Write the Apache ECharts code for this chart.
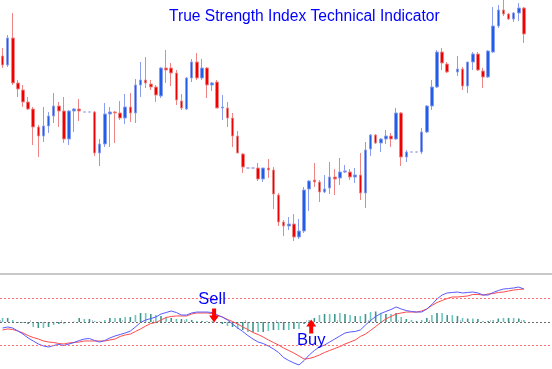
<!DOCTYPE html>
<html>
<head>
<meta charset="utf-8">
<script src="https://cdn.jsdelivr.net/npm/echarts@6/dist/echarts.min.js"></script>
<style>
html,body{margin:0;padding:0;background:#fff;}
#chart{width:552px;height:369px;}
</style>
</head>
<body>
<div id="chart"></div>
<script>
// ---- data ----
const slotCount = 108;
const categories = [];
for (let i = 0; i < slotCount; i++) categories.push(String(i));

// [open, close, low, high]
const candles = [
 [244,235,232,252],[235,262,233,265],[262,217,215,287],[217,211,203,220],[210,198,193,215],
 [198,191,190,203],[191,173,155,193],[173,164,143,175],[164,174,158,193],[174,184,167,188],
 [184,194,177,207],[194,189,173,198],[189,161,157,203],[161,189,155,190],[189,191,168,192],
 [191,189,179,201],[188,188,188,188],[188,188,188,188],[188,147,144,189],[147,156,134,161],
 [156,186,153,197],[186,188,153,193],[188,187,157,189],[187,182,180,199],[182,193,176,206],
 [193,187,178,207],[187,215,177,221],[215,220,203,238],[220,217,212,243],[216,213,210,220],
 [213,205,198,215],[204,232,202,233],[232,230,217,250],[232,227,214,237],[227,200,195,230],
 [199,192,190,206],[191,222,190,223],[222,238,218,241],[238,222,220,247],[222,232,220,241],
 [232,215,202,233],[215,217,209,218],[218,192,192,220],[192,193,180,205],[192,182,173,198],
 [182,164,153,187],[164,147,147,169],[146,133,127,147],[132,132,132,132],[132,132,132,132],
 [132,121,119,137],[121,132,118,132],[132,130,122,141],[130,106,91,133],[105,78,74,107],
 [78,74,64,80],[74,76,70,83],[76,63,59,86],[63,69,61,81],[69,110,67,113],
 [111,119,89,120],[120,118,113,137],[118,108,98,120],[108,111,107,125],[112,123,106,138],
 [123,121,105,131],[122,128,115,142],[128,129,127,135],[128,123,120,131],[123,125,117,132],
 [125,107,100,147],[107,150,92,158],[151,165,144,166],[165,157,156,166],[157,161,148,162],
 [161,164,156,170],[164,161,153,167],[161,187,160,192],[187,143,134,188],[143,148,138,150],
 [148,148,148,148],[148,148,148,148],[148,168,146,172],[168,194,167,195],[194,213,190,220],
 [213,248,212,250],[248,237,230,252],[236,228,227,238],'-',[228,231,224,244],
 [231,214,210,233],[214,238,207,238],[238,246,230,248],[246,230,229,248],[229,223,212,232],
 [223,249,222,250],[248,274,247,293],[274,290,272,295],[290,286,284,300],[286,281,280,287],
 [281,287,278,288],[287,292,279,297],[292,266,257,293]
];

const tsi = [
 -6.4,-5.3,-6.4,-9.6,-12.8,-17.0,-20.2,-23.4,-25.5,-26.6,
 -25.0,-23.9,-25.0,-23.4,-21.8,-19.7,-18.1,-17.6,-19.7,-21.3,
 -19.7,-17.0,-14.9,-13.3,-11.7,-9.6,-5.3,-0.5,2.1,3.7,
 5.3,8.5,10.1,11.7,10.1,7.4,7.4,9.6,10.6,10.6,
 10.6,10.1,7.4,5.3,2.1,-2.1,-6.4,-10.1,-14.4,-18.1,
 -21.3,-22.9,-25.5,-28.7,-32.4,-37.8,-41.0,-43.6,-45.7,-41.0,
 -35.1,-30.3,-26.6,-24.5,-21.3,-18.1,-14.9,-11.7,-10.6,-10.1,
 -8.5,-3.2,1.6,5.9,9.0,11.2,13.3,16.0,13.8,12.2,
 11.2,10.6,10.6,13.8,18.6,24.5,28.7,30.9,31.4,31.9,
 30.9,31.4,31.9,30.9,28.7,28.7,31.4,33.5,35.1,35.6,
 36.2,37.2,35.1
];

const signal = [
 -8.5,-7.4,-8.0,-9.6,-11.7,-14.4,-16.5,-18.1,-20.2,-21.3,
 -21.8,-22.9,-23.4,-22.3,-21.8,-21.3,-20.2,-20.2,-20.2,-20.2,
 -20.2,-19.1,-18.1,-15.4,-13.8,-12.8,-10.1,-7.4,-4.3,-1.6,
 -0.5,2.1,4.8,5.9,6.4,6.4,6.4,8.5,9.6,9.6,
 9.6,9.0,7.4,5.3,2.7,0.5,-2.1,-5.3,-8.0,-11.2,
 -13.3,-16.0,-19.1,-21.8,-24.5,-27.7,-30.3,-33.0,-36.2,-39.4,
 -38.8,-37.2,-35.1,-32.4,-30.3,-28.2,-26.1,-23.4,-21.3,-19.1,
 -15.4,-12.8,-9.0,-4.8,-0.5,3.2,5.9,8.5,9.6,10.6,
 10.6,10.6,11.7,13.8,17.6,20.7,22.9,25.0,26.6,26.6,
 27.1,27.7,29.3,29.3,28.7,29.8,30.3,31.4,31.9,33.0,
 34.0,34.6,35.1
];

const histogram = [
 4.3,4.3,2.1,-1.1,-1.1,-2.1,-5.3,-6.4,-6.4,-5.3,
 -3.2,-2.1,-2.1,-0.5,0.5,4.3,3.2,3.2,1.1,0.5,
 2.1,4.3,4.3,4.3,5.3,5.3,7.4,9.6,9.6,8.5,
 7.4,6.4,5.3,4.3,3.2,3.2,3.2,2.1,1.1,1.1,
 1.1,0.5,-1.1,-2.1,-4.3,-5.3,-7.4,-8.5,-10.6,-10.6,
 -10.6,-10.6,-9.6,-8.5,-8.5,-8.5,-8.5,-7.4,-7.4,-2.1,
 2.1,4.3,7.4,8.5,8.5,8.5,9.6,8.5,7.4,6.4,
 6.4,8.5,10.6,11.2,9.6,8.5,8.5,9.6,5.3,3.2,
 2.1,1.1,2.1,4.3,7.4,9.6,9.6,7.4,7.4,6.4,
 4.3,3.7,3.7,3.2,1.1,1.1,2.1,3.7,4.3,4.3,
 4.3,3.7,2.1
];

const levels = [25, -25];
const centerLevel = [0];

const signals = [
  {text: 'Sell', index: '41', value: 6.9, dir: 'down'},
  {text: 'Buy', index: '60', value: -4.8, dir: 'up'}
];

// ---- chart ----
const downArrow = 'path://M3,0L7,0L7,7L10,7L5,14L0,7L3,7Z';
const upArrow = 'path://M5,0L10,7L7,7L7,14L3,14L3,7L0,7Z';
const font = 'Liberation Sans, Arial, sans-serif';

const chart = echarts.init(document.getElementById('chart'), null, {renderer: 'canvas'});
const option = {
  animation: false,
  backgroundColor: '#ffffff',
  title: {
    text: 'True Strength Index Technical Indicator',
    left: 164, top: 4,
    textStyle: {color: '#0000ff', fontSize: 15.6, fontWeight: 'normal', fontFamily: font}
  },
  grid: [
    {left: -1.56, right: 0, top: 0, height: 274},
    {left: -1.56, right: 0, top: 275, height: 94}
  ],
  xAxis: [
    {type: 'category', gridIndex: 0, data: categories, boundaryGap: true,
     axisLine: {show: true, lineStyle: {color: '#c8c8c8', width: 2}},
     axisTick: {show: false}, axisLabel: {show: false}, splitLine: {show: false}},
    {type: 'category', gridIndex: 1, data: categories, boundaryGap: true,
     axisLine: {show: false},
     axisTick: {show: true, inside: true, length: 2, interval: 5, lineStyle: {color: '#c4c4d4'}},
     axisLabel: {show: false}, splitLine: {show: false}}
  ],
  yAxis: [
    {type: 'value', gridIndex: 0, min: 26, max: 300, show: false, splitLine: {show: false}},
    {type: 'value', gridIndex: 1, min: -50, max: 50, show: false, splitLine: {show: false}}
  ],
  series: [
    {
      type: 'candlestick', xAxisIndex: 0, yAxisIndex: 0,
      data: candles, barWidth: 3, clip: false,
      itemStyle: {
        color: '#1f5fe8', color0: '#f00000',
        borderColor: '#8a9ef0', borderColor0: '#ee8484',
        borderColorDoji: '#9aa2ea', borderWidth: 1
      }
    },
    {
      type: 'bar', xAxisIndex: 1, yAxisIndex: 1, data: histogram, barWidth: 1.6,
      itemStyle: {color: function (p) { return p.dataIndex % 2 ? '#3f948c' : '#6cc6bd'; }},
      markLine: {
        silent: true, symbol: ['none', 'none'], label: {show: false},
        data: levels.map(v => ({yAxis: v, lineStyle: {color: '#ff7070', type: [2, 2], width: 1}}))
          .concat(centerLevel.map(v => ({yAxis: v, lineStyle: {color: '#6a6a6a', type: [2, 2], width: 1}})))
      }
    },
    {
      type: 'line', xAxisIndex: 1, yAxisIndex: 1, data: signal, symbol: 'none',
      lineStyle: {color: '#ff4a4a', width: 1}
    },
    {
      type: 'line', xAxisIndex: 1, yAxisIndex: 1, data: tsi, symbol: 'none',
      lineStyle: {color: '#5a5aff', width: 1},
      markPoint: {
        silent: true,
        data: signals.map(s => ({
          coord: [s.index, s.value],
          symbol: s.dir === 'down' ? downArrow : upArrow,
          symbolSize: [10, 14],
          symbolOffset: [2, 0],
          itemStyle: {color: '#ff0000'},
          label: {
            show: true, formatter: s.text,
            position: s.dir === 'down' ? 'top' : 'bottom',
            distance: s.dir === 'down' ? 1 : -1.5,
            offset: s.dir === 'down' ? [-2, 0] : [0, 0],
            color: '#0000ff', fontSize: 16.5, fontFamily: font
          }
        }))
      }
    }
  ]
};
chart.setOption(option);
</script>
</body>
</html>
